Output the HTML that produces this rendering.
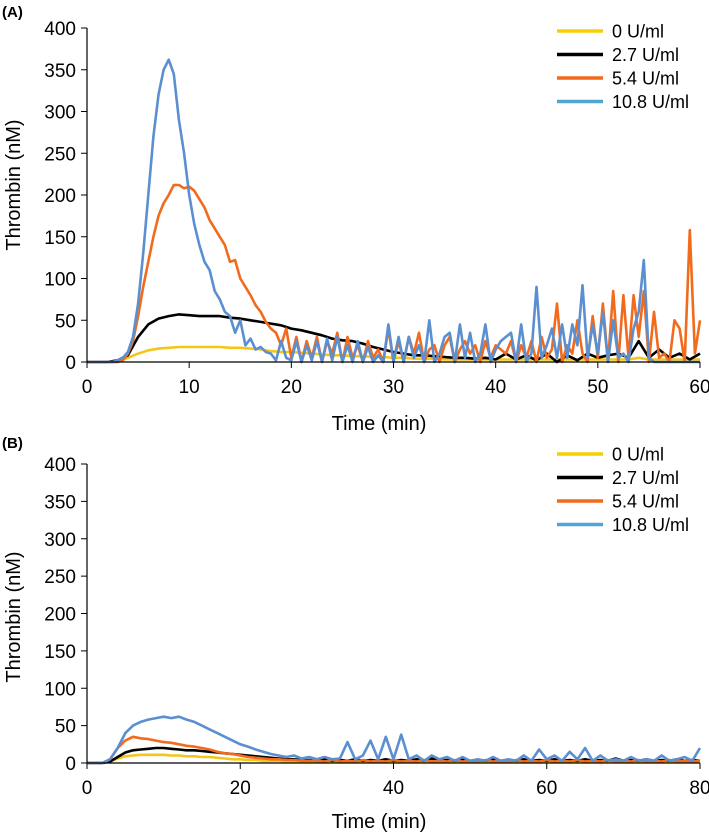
<!DOCTYPE html>
<html><head><meta charset="utf-8"><style>
body{margin:0;background:#fff;}
svg{display:block;font-family:"Liberation Sans",Arial,sans-serif;}
</style></head><body>
<svg id="chart" width="709" height="833" viewBox="0 0 709 833" xmlns="http://www.w3.org/2000/svg"></svg>
<script>
const seriesNames = ["0 U/ml","2.7 U/ml","5.4 U/ml","10.8 U/ml"];
const seriesColors = ["#f5c518","#000000","#f26b1d","#5b8fd0"];
const legendColors = ["#f5d000","#000000","#f26b1d","#4fa6d4"];
const yTicks = [0,50,100,150,200,250,300,350,400];
const xTicksA = [0,10,20,30,40,50,60];
const xTicksB = [0,20,40,60,80];
// Panel A, step 1 min
const yellowA = [0,0,0,0,5,10,14,16,17,18,18,18,18,18,17,17,16,15,13,12,12,11,10,9,8,8,7,7,6,6,5,5,4,4,4,3,3,3,3,3,3,3,3,3,3,3,3,3,3,3,3,3,3,3,5,3,3,3,3,3,3];
const blackA = [0,0,0,2,8,30,45,52,55,57,56,55,55,55,53,52,50,48,46,44,40,38,35,32,28,26,25,22,18,15,12,10,8,8,7,6,5,5,4,5,3,10,3,8,2,10,0,8,2,10,5,8,10,5,25,5,15,5,10,3,10];
// Panel A, step 0.5 min
const orangeA = [0,0,0,0,0,0,0,2,10,25,55,90,120,150,175,190,200,212,212,208,210,205,195,185,170,160,150,140,120,122,100,90,80,68,60,48,40,35,20,40,5,30,0,25,5,30,0,25,10,35,0,30,5,20,0,25,5,15,0,40,0,25,0,30,10,35,0,15,20,0,20,30,0,15,25,10,20,0,25,5,20,15,10,25,0,20,5,25,0,30,5,15,70,0,20,10,50,10,0,55,5,70,0,85,0,80,5,80,30,85,0,60,5,10,0,50,40,0,158,10,50];
const blueA = [0,0,0,0,0,0,2,5,12,30,70,130,200,270,320,350,362,345,290,250,200,165,140,120,110,85,75,60,55,35,50,20,28,15,18,12,10,2,25,5,2,25,0,20,2,25,0,28,2,30,0,20,0,25,0,18,0,8,0,45,0,30,0,30,5,20,0,50,0,10,30,35,0,45,5,35,0,10,45,0,15,25,30,35,0,45,0,10,90,5,20,40,5,45,5,45,20,92,5,45,10,60,0,50,5,10,0,40,60,122,5,0,0,0,0,0,0,0,0,0,0];
// Panel B, step 1 min
const yellowB = [0,0,0,2,6,9,10,11,11,11,11,10,10,9,9,8,8,7,6,5,5,4,4,3,3,3,2,2,2,2,2,2,2,2,2,2,2,2,2,2,2,2,2,2,2,2,2,2,2,2,2,2,2,2,2,2,2,2,2,2,2,2,2,2,2,2,2,2,2,2,2,2,2,2,2,2,2,2,2,2,2];
const blackB = [0,0,0,2,8,14,17,18,19,20,20,19,18,17,17,16,15,14,13,12,11,10,9,8,7,6,5,5,4,4,3,5,3,4,3,5,3,4,3,5,3,4,3,5,3,6,3,4,3,5,3,4,3,5,3,4,3,5,3,4,3,5,3,4,3,5,3,4,3,6,3,4,3,5,3,4,3,5,3,4,3];
const orangeB = [0,0,0,5,20,30,35,33,32,30,28,27,25,23,22,20,18,15,13,12,10,8,7,6,5,5,4,4,3,3,3,2,4,2,3,2,4,2,3,2,4,2,3,2,4,2,3,2,4,2,3,2,4,2,3,2,4,2,3,2,4,2,3,2,4,2,3,2,4,2,3,2,4,2,3,2,4,2,3,2,3];
const blueB = [0,0,0,5,20,40,50,55,58,60,62,60,62,58,55,50,45,40,35,30,25,22,18,15,12,10,8,10,6,8,5,8,5,6,28,5,10,30,5,35,5,38,5,10,3,10,5,8,3,8,3,5,3,8,3,5,3,10,3,18,5,10,3,15,5,20,3,10,3,5,3,8,3,5,3,10,3,5,8,3,20];

const svg = document.getElementById('chart');
const NS = 'http://www.w3.org/2000/svg';
function mk(tag, attrs, parent){
  const e = document.createElementNS(NS, tag);
  for (const k in attrs) e.setAttribute(k, attrs[k]);
  (parent||svg).appendChild(e);
  return e;
}
function panel(cfg){
  const g = mk('g', {});
  
  
  const x0 = 87, x1 = 700;
  const xs = v => x0 + (v - cfg.xmin) / (cfg.xmax - cfg.xmin) * (x1 - x0);
  const ys = v => cfg.y0 - v / 400 * (cfg.y0 - cfg.y400);
  const lab = mk('text', {x: 2, y: cfg.labelY, 'font-size': 15, 'font-weight': 'bold'}, g);
  lab.textContent = cfg.label;
  
  
  cfg.series.forEach((s, i) => {
    const pts = s.vals.map((v, j) => xs(j * s.step).toFixed(1) + ',' + ys(v).toFixed(1)).join(' ');
    const pl = mk('polyline', {points: pts, fill: 'none', stroke: seriesColors[i], 'stroke-width': 2.6, 'stroke-linejoin': 'round'}, g);
    
    
  });
  const ya = mk('line', {x1: x0, y1: cfg.y400, x2: x0, y2: cfg.y0, stroke: '#000', 'stroke-width': 1.2}, g);
  
  
  const xa = mk('line', {x1: x0, y1: cfg.y0, x2: x1, y2: cfg.y0, stroke: '#000', 'stroke-width': 1.2}, g);
  
  
  yTicks.forEach(t => {
    mk('line', {x1: x0 - 6, y1: ys(t), x2: x0, y2: ys(t), stroke: '#000', 'stroke-width': 1}, g);
    const tx = mk('text', {x: x0 - 11, y: ys(t) + 7, 'font-size': 19, 'text-anchor': 'end'}, g);
    tx.textContent = t;
    
    
  });
  cfg.xticks.forEach(t => {
    mk('line', {x1: xs(t), y1: cfg.y0, x2: xs(t), y2: cfg.y0 + 6, stroke: '#000', 'stroke-width': 1}, g);
    const tx = mk('text', {x: xs(t), y: cfg.tickY, 'font-size': 19, 'text-anchor': 'middle'}, g);
    tx.textContent = t;
    
    
  });
  const xt = mk('text', {x: 379, y: cfg.titleY, 'font-size': 20, 'text-anchor': 'middle'}, g);
  xt.textContent = 'Time (min)';
  
  
  const yt = mk('text', {x: 0, y: 0, 'font-size': 20, 'text-anchor': 'middle', transform: 'translate(20,' + cfg.yTitleC + ') rotate(-90)'}, g);
  yt.textContent = 'Thrombin (nM)';
  
  
  seriesNames.forEach((n, i) => {
    const ly = cfg.legY + i * 23.5;
    const le = mk('g', {}, g);
    
    
    mk('line', {x1: 557, y1: ly, x2: 603, y2: ly, stroke: legendColors[i], 'stroke-width': 3.5}, le);
    const tx = mk('text', {x: 612, y: ly + 6.5, 'font-size': 18}, le);
    tx.textContent = n;
  });
}
panel({name: 'panel-a', label: '(A)', labelY: 17, y0: 362, y400: 28, xmin: 0, xmax: 60, xticks: xTicksA, legY: 31, tickY: 393, titleY: 430, yTitleC: 185,
  series: [{vals: yellowA, step: 1}, {vals: blackA, step: 1}, {vals: orangeA, step: 0.5}, {vals: blueA, step: 0.5}]});
panel({name: 'panel-b', label: '(B)', labelY: 448, y0: 763, y400: 464, xmin: 0, xmax: 80, xticks: xTicksB, legY: 454, tickY: 794, titleY: 828, yTitleC: 617,
  series: [{vals: yellowB, step: 1}, {vals: blackB, step: 1}, {vals: orangeB, step: 1}, {vals: blueB, step: 1}]});
</script>
</body></html>
